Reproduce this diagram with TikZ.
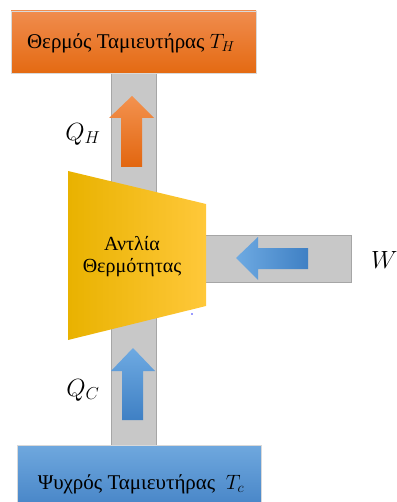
\documentclass[tikz,border=0pt]{standalone}
\usepackage{fontspec}
\setmainfont{Liberation Serif}
\usetikzlibrary{calc}
\definecolor{barfill}{HTML}{C8C8C8}
\definecolor{barline}{HTML}{A6A6A6}
\definecolor{hotA}{HTML}{F08C4E}
\definecolor{hotB}{HTML}{E46A12}
\definecolor{coldA}{HTML}{6FA8DE}
\definecolor{coldB}{HTML}{4583C6}
\definecolor{pumpA}{HTML}{E9B200}
\definecolor{pumpB}{HTML}{FFC000}
\definecolor{pumpC}{HTML}{FFC83A}
\definecolor{arrO1}{HTML}{F3924F}
\definecolor{arrO2}{HTML}{E2660F}
\definecolor{arrB1}{HTML}{6EAAE2}
\definecolor{arrB2}{HTML}{3F80C4}
\tikzset{
  bar/.style={fill=barfill, draw=barline, line width=0.6pt},
  reservoir/.style={draw=white!85!black, line width=0.4pt},
  boxtext/.style={font=\fontsize{21}{24}\selectfont, inner sep=0pt},
  pumptext/.style={font=\fontsize{20}{22}\selectfont, align=center, inner sep=0pt},
  heatlabel/.style={font=\fontsize{26}{30}\selectfont, inner sep=0pt},
}
\begin{document}
\begin{tikzpicture}[x=1pt,y=-1pt]
\useasboundingbox (0,0) rectangle (396,502);
\begin{scope}
\clip (0,0) rectangle (396,502);

% conduits carrying heat and work
\draw[bar] (111,60) rectangle (156,450);
\draw[bar] (200,235) rectangle (351,282);

% heat pump body
\coordinate (p1) at (68,171);
\coordinate (p2) at (206,204);
\coordinate (p3) at (206,306);
\coordinate (p4) at (68,340);
\shade[left color=pumpA, middle color=pumpB, right color=pumpC]
  (p1) -- (p2) -- (p3) -- (p4) -- cycle;
\node[pumptext] (pump) at (132,257) {Αντλία\\Θερμότητας};

% reservoirs
\shade[top color=hotA, bottom color=hotB] (11,11) rectangle (256,73);
\draw[reservoir] (11,11) rectangle (256,73);
\node[boxtext] (hot) at (131,43) {Θερμός Ταμιευτήρας $T_H$};

\shade[top color=coldA, bottom color=coldB] (17,445) rectangle (261,510);
\draw[reservoir] (17,445) rectangle (261,510);
\node[boxtext] (cold) at (141,484) {Ψυχρός Ταμιευτήρας \ $T_c$};

% heat flow arrows
\shade[top color=arrO1, bottom color=arrO2]
  (132,96) -- (154,118) -- (142,118) -- (142,167) -- (121,167) -- (121,118) -- (109,118) -- cycle;
\shade[top color=arrB1, bottom color=arrB2]
  (133,348) -- (155,371) -- (143,371) -- (143,420) -- (122,420) -- (122,371) -- (111,371) -- cycle;
% work arrow
\shade[left color=arrB1, right color=arrB2]
  (236,258) -- (258,237) -- (258,248) -- (308,248) -- (308,269) -- (258,269) -- (258,280) -- cycle;

% labels
\node[heatlabel] (qh) at (83,134) {$Q_H$};
\node[heatlabel] (qc) at (83,390) {$Q_C$};
\node[font=\fontsize{33}{36}\selectfont, inner sep=0pt, anchor=west] (w) at (371,260) {$W$};

\fill[blue!80] (192,314) circle (0.9);
\end{scope}
\end{tikzpicture}
\end{document}
